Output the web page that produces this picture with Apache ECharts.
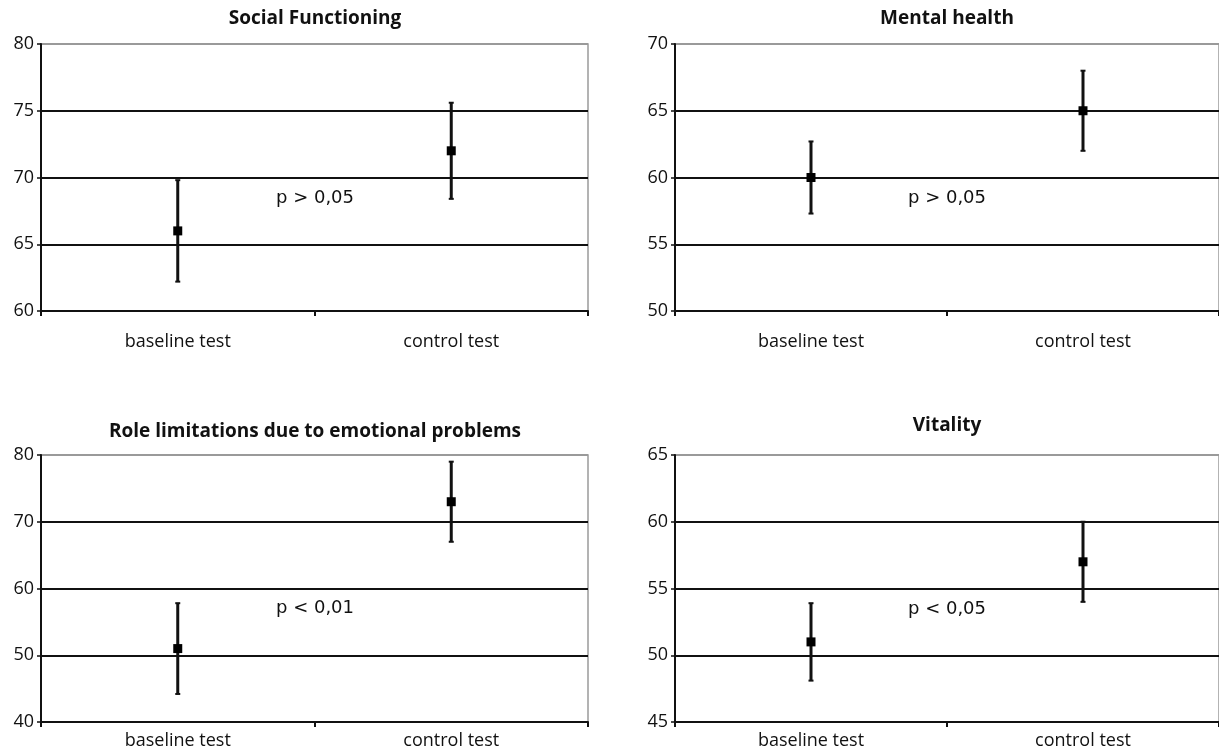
<!DOCTYPE html>
<html>
<head>
<meta charset="utf-8">
<script src="https://cdn.jsdelivr.net/npm/echarts@6/dist/echarts.min.js"></script>
<style>
html,body{margin:0;padding:0;background:#fff;}
#chart{width:1219px;height:751px;}
</style>
</head>
<body>
<div id="chart"></div>
<script>
// ---- data ----
const categories = ['baseline test', 'control test'];
const panelTitles = ['Social Functioning', 'Mental health', 'Role limitations due to emotional problems', 'Vitality'];
const pLabels = ['p > 0,05', 'p > 0,05', 'p < 0,01', 'p < 0,05'];

const socialMean = [66, 72];
const socialLow = [62.2, 68.4];
const socialHigh = [69.8, 75.6];

const mentalMean = [60, 65];
const mentalLow = [57.3, 62];
const mentalHigh = [62.7, 68];

const roleMean = [51, 73];
const roleLow = [44.2, 67];
const roleHigh = [57.8, 79];

const vitalityMean = [51, 57];
const vitalityLow = [48.1, 54];
const vitalityHigh = [53.9, 60];

const yMin = [60, 50, 40, 45];
const yMax = [80, 70, 80, 65];
const yInterval = [5, 5, 10, 5];

// ---- layout ----
const FONT = '"Open Sans", "Noto Sans", sans-serif';
const grids = [
  {left: 41, top: 44, width: 547, height: 267},
  {left: 675, top: 44, width: 544, height: 267},
  {left: 41, top: 455, width: 547, height: 267},
  {left: 675, top: 455, width: 544, height: 267}
];
const xLabelMargin = [22, 22, 10, 10];
const titlePos = [[315, 19], [947, 19], [315, 432], [947, 426]];
const pPos = [[315, 198], [947, 198], [315, 608], [947, 609]];

const seriesData = [
  [socialMean, socialLow, socialHigh],
  [mentalMean, mentalLow, mentalHigh],
  [roleMean, roleLow, roleHigh],
  [vitalityMean, vitalityLow, vitalityHigh]
];

function renderItem(params, api) {
  const x = api.value(0);
  const pm = api.coord([x, api.value(1)]);
  const pl = api.coord([x, api.value(2)]);
  const ph = api.coord([x, api.value(3)]);
  const c = '#111';
  return {
    type: 'group',
    children: [
      {type: 'line', shape: {x1: pl[0], y1: pl[1], x2: ph[0], y2: ph[1]}, style: {stroke: c, lineWidth: 3}},
      {type: 'line', shape: {x1: ph[0] - 2.5, y1: ph[1], x2: ph[0] + 2.5, y2: ph[1]}, style: {stroke: c, lineWidth: 2}},
      {type: 'line', shape: {x1: pl[0] - 2.5, y1: pl[1], x2: pl[0] + 2.5, y2: pl[1]}, style: {stroke: c, lineWidth: 2}},
      {type: 'rect', shape: {x: pm[0] - 4.5, y: pm[1] - 4.5, width: 9, height: 9}, style: {fill: '#000'}}
    ]
  };
}

const option = {
  backgroundColor: '#fff',
  animation: false,
  grid: grids.map(g => Object.assign({show: true, borderColor: '#9a9a9a', borderWidth: 1.5, backgroundColor: 'transparent'}, g)),
  xAxis: grids.map((g, i) => ({
    type: 'category',
    gridIndex: i,
    data: categories,
    boundaryGap: true,
    axisLine: {lineStyle: {color: '#111', width: 2}},
    axisTick: {show: true, length: 5, lineStyle: {color: '#111', width: 2}},
    axisLabel: {color: '#111', fontSize: 18, fontFamily: FONT, margin: xLabelMargin[i]},
    splitLine: {show: false}
  })),
  yAxis: grids.map((g, i) => ({
    type: 'value',
    gridIndex: i,
    min: yMin[i],
    max: yMax[i],
    interval: yInterval[i],
    axisLine: {show: true, lineStyle: {color: '#111', width: 2}},
    axisTick: {show: true, length: 4, lineStyle: {color: '#111', width: 1.5}},
    axisLabel: {color: '#111', fontSize: 18, fontFamily: FONT, margin: 7},
    splitLine: {show: true, lineStyle: {color: ['#111', '#111', '#111', '#111', '#9a9a9a'], width: 1.8}}
  })),
  graphic: panelTitles.map((t, i) => ({
    type: 'text',
    x: titlePos[i][0],
    y: titlePos[i][1],
    style: {text: t, fill: '#111', font: 'bold 19px ' + FONT, textAlign: 'center', textVerticalAlign: 'middle'}
  })).concat(pLabels.map((t, i) => ({
    type: 'text',
    x: pPos[i][0],
    y: pPos[i][1],
    style: {text: t, fill: '#111', font: '18px "DejaVu Sans", sans-serif', textAlign: 'center', textVerticalAlign: 'middle'}
  }))),
  series: seriesData.map((s, i) => ({
    type: 'custom',
    xAxisIndex: i,
    yAxisIndex: i,
    renderItem: renderItem,
    encode: {x: 0, y: 1},
    data: categories.map((c, k) => [k, s[0][k], s[1][k], s[2][k]]),
    z: 5
  }))
};

const chart = echarts.init(document.getElementById('chart'));
chart.setOption(option);
</script>
</body>
</html>
